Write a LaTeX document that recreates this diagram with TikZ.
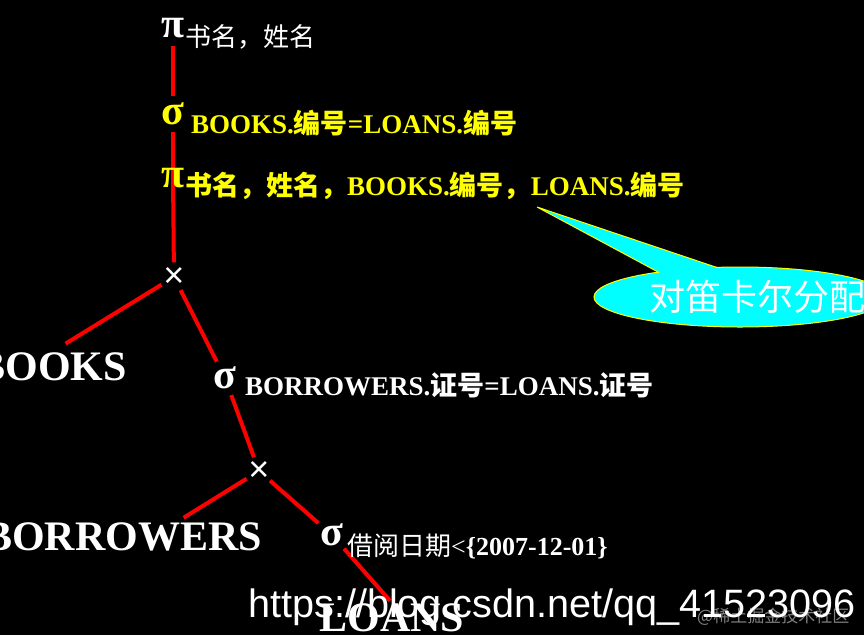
\documentclass[tikz,border=0pt]{standalone}
\usepackage{fontspec}
\setmainfont{Liberation Serif}
\newfontfamily\cjk{Noto Sans CJK SC}
\newfontfamily\arialfont{Liberation Sans}
\usetikzlibrary{shapes.geometric,backgrounds}
\definecolor{hiyellow}{HTML}{FFFF00}
\definecolor{hicyan}{HTML}{00FFFF}
\newcommand\zh[1]{{\cjk #1}}
\newcommand\fsz[1]{\fontsize{#1}{#1}\selectfont}

\begin{document}
\begin{tikzpicture}[x=1pt,y=-1pt,
    op/.style={circle,inner sep=0pt,minimum size=36pt,font=\fsz{42}\bfseries},
    cross/.style={circle,inner sep=0pt,minimum size=28pt,font=\arialfont\fsz{36}},
    rel/.style={anchor=base,inner sep=0pt,text=white,font=\fsz{42}\bfseries},
    cond/.style={anchor=base west,inner sep=0pt,font=\fsz{27}\bfseries},
    edge/.style={red,line width=4pt}]
  \useasboundingbox (0,0) rectangle (864,635);

  % query tree
  \node[op,text=white] (p1) at (173,28) {π};
  \node[cond,text=white,font=\fsz{26}] (t1) at (185,46) {\zh{书名，姓名}};
  \node[op,text=hiyellow] (s1) at (173,114) {σ};
  \node[cond,text=hiyellow] (t2) at (191,133) {BOOKS.\zh{编号}=LOANS.\zh{编号}};
  \node[op,text=hiyellow] (p2) at (173,178) {π};
  \node[cond,text=hiyellow] (t3) at (185,195) {\zh{书名，姓名，}BOOKS.\zh{编号，}LOANS.\zh{编号}};
  \node[cross,text=white] (x1) at (174,277) {×};
  \node[rel] (books) at (52,380) {BOOKS};
  \node[op,text=white] (s2) at (225,378) {σ};
  \node[cond,text=white] (t4) at (245,395) {BORROWERS.\zh{证号}=LOANS.\zh{证号}};
  \node[cross,text=white] (x2) at (259,471) {×};
  \node[rel] (borrowers) at (123,550) {BORROWERS};
  \node[op,text=white] (s3) at (332,535) {σ};
  \node[cond,text=white,font=\fsz{26}] (t5) at (347,555) {\zh{借阅日期}<\textbf{\{2007-12-01\}}};
  \node[rel] (loans) at (392,631) {LOANS};

  % callout
  \node[ellipse,draw=hiyellow,fill=hicyan,line width=1pt,minimum width=292pt,
        minimum height=60pt,inner sep=0pt] (callout) at (740,297) {};
  \coordinate (tip) at (537,207);
  \fill[hicyan] (659,277) -- (659,272.5) -- (tip) -- (717,267.5) -- (717,272) -- cycle;
  \draw[hiyellow,line width=1pt] (659,272.5) -- (tip) -- (717,267.5);
  \node[text=white,font=\cjk\fsz{36},inner sep=0pt] (dist) at (757,297) {对笛卡尔分配};

  % watermark
  \node[anchor=base west,inner sep=0pt,text=gray,font=\cjk\fsz{17}] (mark) at (697,622) {@稀土掘金技术社区};
  \node[anchor=base west,inner sep=0pt,text=white,font=\arialfont\fsz{39.6}] (url) at (248,617) {https://blog.csdn.net/qq\_41523096};

  \begin{scope}[on background layer]
    \fill[black] (0,0) rectangle (864,635);
    \draw[edge] (p1) -- (s1);
    \draw[edge] (s1) -- (p2.center) -- (x1);
    \draw[edge,shorten >=16pt] (x1) -- (books.north);
    \draw[edge] (x1) -- (s2);
    \draw[edge] (s2) -- (x2);
    \draw[edge,shorten >=8pt] (x2) -- (borrowers.15);
    \draw[edge] (x2) -- (s3);
    \draw[edge,shorten >=3pt] (s3) -- (loans.north);
  \end{scope}
\end{tikzpicture}
\end{document}
